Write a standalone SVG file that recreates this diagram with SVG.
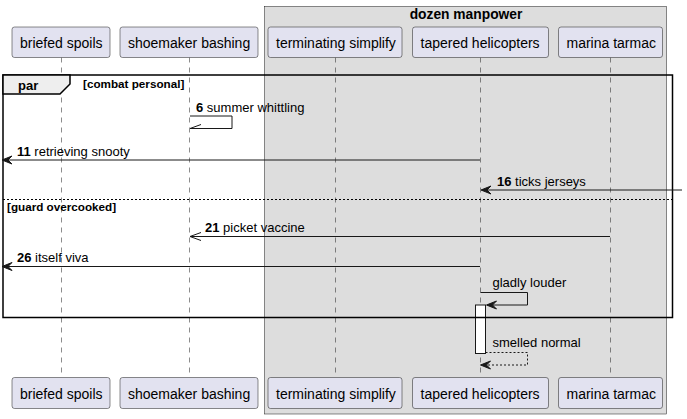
<svg xmlns="http://www.w3.org/2000/svg" width="687" height="419" viewBox="0 0 687 419">
<style>
text{font-family:"Liberation Sans",Arial,sans-serif;fill:#000}
.part rect{fill:#E2E2F0;stroke:#181818;stroke-width:0.5}
.part text{font-size:14px}
.life{stroke:#181818;stroke-width:0.5;stroke-dasharray:5,5;fill:none}
.msg{stroke:#181818;stroke-width:1;fill:none}
.dash{stroke:#181818;stroke-width:1;fill:none;stroke-dasharray:2,2}
.head{fill:#181818;stroke:#181818;stroke-width:1}
.mt{font-size:13px}
.b{font-weight:bold}
.g{font-size:11.7px;font-weight:bold}
</style>
<rect x="264.5" y="6.5" width="402" height="407.5" fill="#DDDDDD" stroke="#181818" stroke-width="0.5"/>
<text x="466" y="18.5" text-anchor="middle" class="b" font-size="13.8px">dozen manpower</text>
<g id="lifelines">
<line class="life" x1="61.5" y1="57.5" x2="61.5" y2="377.5"/>
<line class="life" x1="189.5" y1="57.5" x2="189.5" y2="377.5"/>
<line class="life" x1="335.5" y1="57.5" x2="335.5" y2="377.5"/>
<line class="life" x1="480.5" y1="57.5" x2="480.5" y2="377.5"/>
<line class="life" x1="610.5" y1="57.5" x2="610.5" y2="377.5"/>
</g>
<g id="p-briefed" class="part">
<rect x="12" y="27" width="98" height="30.5" rx="2.5"/>
<text x="20" y="47.5">briefed spoils</text>
<rect x="12" y="377.5" width="98" height="31" rx="2.5"/>
<text x="20" y="398.5">briefed spoils</text>
</g>
<g id="p-shoemaker" class="part">
<rect x="120" y="27" width="138" height="30.5" rx="2.5"/>
<text x="128" y="47.5">shoemaker bashing</text>
<rect x="120" y="377.5" width="138" height="31" rx="2.5"/>
<text x="128" y="398.5">shoemaker bashing</text>
</g>
<g id="p-terminating" class="part">
<rect x="268" y="27" width="134" height="30.5" rx="2.5"/>
<text x="276" y="47.5">terminating simplify</text>
<rect x="268" y="377.5" width="134" height="31" rx="2.5"/>
<text x="276" y="398.5">terminating simplify</text>
</g>
<g id="p-tapered" class="part">
<rect x="412.5" y="27" width="136" height="30.5" rx="2.5"/>
<text x="420.5" y="47.5">tapered helicopters</text>
<rect x="412.5" y="377.5" width="136" height="31" rx="2.5"/>
<text x="420.5" y="398.5">tapered helicopters</text>
</g>
<g id="p-marina" class="part">
<rect x="558.5" y="27" width="104" height="30.5" rx="2.5"/>
<text x="566.5" y="47.5">marina tarmac</text>
<rect x="558.5" y="377.5" width="104" height="31" rx="2.5"/>
<text x="566.5" y="398.5">marina tarmac</text>
</g>
<g id="activation">
<rect x="475.5" y="305" width="10" height="48.5" fill="#FFFFFF" stroke="#181818" stroke-width="1"/>
</g>
<g id="frame-par">
<rect x="3" y="75" width="669.5" height="242.5" fill="none" stroke="#000" stroke-width="1.5"/>
<path d="M3,75 L70,75 L70,84 L60,94 L3,94 Z" fill="#EEEEEE" stroke="#000" stroke-width="1.5"/>
<text x="18" y="90" class="b" font-size="13px">par</text>
<text x="83" y="87.5" class="g">[combat personal]</text>
<line x1="3" y1="199.5" x2="672.5" y2="199.5" stroke="#000" stroke-width="1" stroke-dasharray="2,2"/>
<text x="7" y="211" class="g">[guard overcooked]</text>
</g>
<g id="connectors">
<path class="msg" d="M190,116 L232,116 L232,128.5 L190,128.5"/>
<line class="msg" x1="190" y1="128.5" x2="201" y2="124.5"/>
<text x="196" y="111.5" class="mt"><tspan class="b">6</tspan> summer whittling</text>

<line class="msg" x1="480" y1="160" x2="3" y2="160"/>
<polygon class="head" points="12,156 2,160 12,164 8,160"/>
<text x="17" y="155.5" class="mt"><tspan class="b">11</tspan> retrieving snooty</text>

<line class="msg" x1="682" y1="190" x2="482" y2="190"/>
<polygon class="head" points="491,186 481,190 491,194 487,190"/>
<text x="497" y="185.5" class="mt"><tspan class="b">16</tspan> ticks jerseys</text>

<line class="msg" x1="610" y1="236.5" x2="190" y2="236.5"/>
<path class="msg" d="M201,232.5 L190,236.5 L201,240.5"/>
<text x="205" y="231.5" class="mt"><tspan class="b">21</tspan> picket vaccine</text>

<line class="msg" x1="480" y1="266.5" x2="3" y2="266.5"/>
<polygon class="head" points="12,262.5 2,266.5 12,270.5 8,266.5"/>
<text x="17" y="261.5" class="mt"><tspan class="b">26</tspan> itself viva</text>

<path class="msg" d="M480.5,292.5 L527.5,292.5 L527.5,305 L487,305"/>
<polygon class="head" points="496.5,301 486.5,305 496.5,309 492.5,305"/>
<text x="492.5" y="287" class="mt">gladly louder</text>

<path class="dash" d="M485.5,352.5 L527.5,352.5 L527.5,365 L482,365"/>
<polygon class="head" points="490.5,361 480.5,365 490.5,369 486.5,365"/>
<text x="492.5" y="347" class="mt">smelled normal</text>
</g>
</svg>
